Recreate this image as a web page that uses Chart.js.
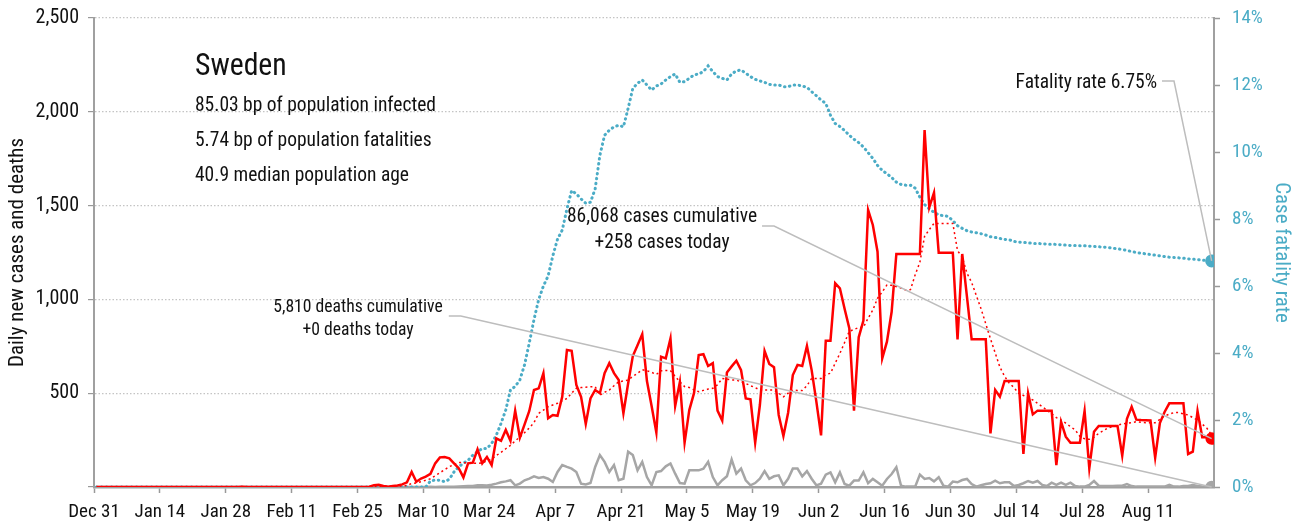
<!DOCTYPE html>
<html>
<head>
<meta charset="utf-8">
<script src="https://cdn.jsdelivr.net/npm/chart.js@4.4.1/dist/chart.umd.min.js"></script>
<style>
  html, body { margin: 0; padding: 0; background: #fff; }
  #wrap { width: 1312px; height: 527px; }
</style>
</head>
<body>
<div id="wrap"><canvas id="chart" width="1312" height="527"></canvas></div>
<script>
// first condensed face that is really installed
function pickFont(names) {
  const c = document.createElement("canvas").getContext("2d");
  const probe = "abcdefghijklmnopqrstuvwxyz 0123456789";
  c.font = "40px monospace";
  const base = c.measureText(probe).width;
  for (const n of names) {
    c.font = "40px '" + n + "', monospace";
    if (c.measureText(probe).width !== base) return "'" + n + "', sans-serif";
  }
  return "sans-serif";
}
const FONT = pickFont(["Roboto Condensed", "Liberation Sans Narrow", "Arial Narrow", "DejaVu Sans Condensed", "Roboto"]);
const BLUE = "#4bacc6";

// one tick every 14 days, first day is Dec 31
const tickLabels = ["Dec 31", "Jan 14", "Jan 28", "Feb 11", "Feb 25", "Mar 10", "Mar 24", "Apr 7",
  "Apr 21", "May 5", "May 19", "Jun 2", "Jun 16", "Jun 30", "Jul 14", "Jul 28", "Aug 11"];

// daily values, one row per two weeks
const dailyCases = [
  0, 0, 0, 0, 0, 0, 0, 0, 0, 0, 0, 0, 0, 0,
  0, 0, 0, 0, 0, 0, 0, 0, 0, 0, 0, 0, 0, 0,
  0, 0, 0, 1, 0, 0, 0, 0, 0, 0, 0, 0, 0, 0,
  0, 0, 0, 0, 0, 0, 0, 0, 0, 0, 0, 0, 0, 0,
  0, 0, 2, 10, 12, 5, 2, 5, 8, 14, 25, 80, 28, 45,
  55, 70, 126, 158, 160, 153, 126, 100, 51, 126, 130, 201, 126, 160,
  117, 259, 246, 304, 246, 407, 263, 334, 405, 517, 526, 607, 366, 384,
  380, 481, 730, 726, 544, 481, 336, 472, 517, 500, 607, 660, 607, 570,
  393, 552, 698, 756, 815, 565, 430, 290, 695, 686, 792, 432, 560, 236,
  410, 500, 703, 708, 645, 660, 407, 354, 611, 643, 673, 623, 472, 467,
  236, 437, 725, 656, 639, 384, 272, 396, 597, 651, 645, 752, 623, 455,
  275, 780, 780, 1086, 1059, 950, 846, 407, 798, 887, 1477, 1397, 1254, 686,
  775, 934, 1242, 1242, 1242, 1242, 1242, 1242, 1903, 1491, 1569, 1249, 1249, 1249,
  1249, 787, 1242, 1015, 787, 787, 787, 787, 286, 517, 481, 565, 565, 565,
  565, 176, 499, 387, 407, 407, 407, 407, 117, 348, 268, 236, 236, 236,
  405, 100, 295, 325, 325, 325, 325, 325, 167, 364, 428, 359, 357, 356,
  355, 156, 341, 400, 446, 446, 446, 446, 176, 188, 405, 265, 265, 258
];

const casesWeekAvg = [
  null, null, null, null, null, null, 0, 0, 0, 0, 0, 0, 0, 0,
  0, 0, 0, 0, 0, 0, 0, 0, 0, 0, 0, 0, 0, 0,
  0, 0, 0, 0, 0, 0, 0, 0, 0, 0, 0, 0, 0, 0,
  0, 0, 0, 0, 0, 0, 0, 0, 0, 0, 0, 0, 0, 0,
  0, 0, 0, 2, 3, 4, 4, 4, 5, 6, 8, 19, 22, 28,
  36, 44, 60, 76, 92, 108, 120, 130, 130, 128, 126, 126, 128, 140,
  148, 168, 185, 204, 222, 246, 266, 290, 315, 343, 393, 410, 428, 437,
  446, 460, 472, 500, 526, 530, 532, 534, 535, 490, 505, 517, 540, 561,
  565, 570, 590, 606, 625, 620, 611, 600, 620, 621, 620, 590, 561, 535,
  530, 518, 508, 515, 522, 526, 545, 579, 575, 570, 570, 560, 552, 540,
  530, 517, 517, 517, 517, 500, 481, 500, 517, 515, 514, 540, 579, 579,
  579, 600, 606, 660, 712, 770, 830, 840, 850, 852, 900, 943, 1006, 1040,
  1077, 1075, 1068, 1060, 1050, 1052, 1131, 1198, 1336, 1372, 1405, 1405, 1405, 1405,
  1405, 1260, 1226, 1140, 1090, 1020, 950, 870, 790, 715, 639, 590, 553, 530,
  499, 488, 476, 464, 446, 428, 410, 390, 370, 357, 340, 322, 304, 270,
  257, 254, 265, 286, 300, 315, 322, 330, 336, 340, 343, 348, 345, 343,
  343, 343, 360, 379, 388, 397, 397, 390, 384, 370, 357, 335, 313, 277
];

const dailyDeaths = [
  0, 0, 0, 0, 0, 0, 0, 0, 0, 0, 0, 0, 0, 0,
  0, 0, 0, 0, 0, 0, 0, 0, 0, 0, 0, 0, 0, 0,
  0, 0, 0, 0, 0, 0, 0, 0, 0, 0, 0, 0, 0, 0,
  0, 0, 0, 0, 0, 0, 0, 0, 0, 0, 0, 0, 0, 0,
  0, 0, 0, 0, 0, 0, 0, 0, 0, 0, 0, 0, 0, 0,
  0, 1, 0, 1, 1, 1, 2, 3, 4, 5, 6, 9, 9, 8,
  12, 18, 25, 30, 36, 9, 18, 36, 45, 57, 48, 53, 44, 27,
  80, 117, 107, 98, 80, 18, 14, 21, 107, 170, 134, 80, 117, 36,
  44, 188, 170, 89, 134, 53, 9, 80, 85, 110, 125, 71, 21, 18,
  89, 89, 89, 98, 134, 53, 9, 36, 57, 146, 71, 98, 36, 9,
  21, 44, 85, 44, 57, 62, 9, 44, 98, 98, 57, 85, 44, 9,
  18, 66, 78, 25, 78, 16, 7, 34, 34, 78, 20, 43, 25, 7,
  43, 69, 105, 7, 2, 2, 2, 66, 43, 48, 30, 52, 7, 2,
  29, 25, 37, 43, 16, 2, 9, 16, 20, 34, 20, 25, 25, 5,
  11, 20, 32, 23, 32, 11, 5, 23, 11, 23, 11, 23, 5, 2,
  2, 11, 32, 7, 5, 5, 5, 7, 7, 16, 5, 2, 2, 2,
  2, 2, 2, 2, 11, 2, 2, 5, 5, 11, 5, 3, 2, 0
];

// case fatality rate, percent
const fatalityRate = [
  0, 0, 0, 0, 0, 0, 0, 0, 0, 0, 0, 0, 0, 0,
  0, 0, 0, 0, 0, 0, 0, 0, 0, 0, 0, 0, 0, 0,
  0, 0, 0, 0, 0, 0, 0, 0, 0, 0, 0, 0, 0, 0,
  0, 0, 0, 0, 0, 0, 0, 0, 0, 0, 0, 0, 0, 0,
  0, 0, 0, 0, 0, 0, 0, 0, 0, 0, 0, 0, 0, 0,
  0, 0.18, 0.21, 0.2, 0.16, 0.23, 0.45, 0.6, 0.71, 0.8, 0.95, 1.05, 1.15, 1.15,
  1.3, 1.55, 1.9, 2.3, 2.9, 3.0, 3.2, 3.65, 4.3, 5.0, 5.6, 6.0, 6.3, 6.9,
  7.4, 7.67, 8.3, 8.85, 8.75, 8.6, 8.47, 8.5, 8.9, 9.9, 10.5, 10.65, 10.75, 10.8,
  10.75, 11.3, 11.9, 12.05, 12.15, 12.0, 11.85, 11.97, 12.03, 12.15, 12.25, 12.33, 12.08, 12.1,
  12.2, 12.3, 12.33, 12.4, 12.57, 12.4, 12.25, 12.2, 12.15, 12.33, 12.42, 12.45, 12.35, 12.25,
  12.17, 12.12, 12.08, 12.02, 12.0, 12.0, 11.95, 11.95, 12.0, 12.0, 11.97, 11.93, 11.8, 11.68,
  11.55, 11.45, 11.1, 10.85, 10.76, 10.64, 10.5, 10.38, 10.28, 10.15, 9.98, 9.81, 9.6, 9.45,
  9.35, 9.24, 9.1, 9.03, 9.01, 9.01, 8.92, 8.65, 8.43, 8.3, 8.2, 8.12, 8.1, 8.08,
  7.95, 7.8, 7.72, 7.65, 7.61, 7.59, 7.56, 7.52, 7.47, 7.45, 7.42, 7.39, 7.38, 7.33,
  7.31, 7.3, 7.29, 7.27, 7.27, 7.26, 7.25, 7.25, 7.24, 7.23, 7.22, 7.21, 7.21, 7.2,
  7.2, 7.19, 7.18, 7.17, 7.16, 7.15, 7.13, 7.11, 7.09, 7.06, 7.03, 7.0, 6.98, 6.96,
  6.94, 6.92, 6.9, 6.88, 6.86, 6.85, 6.84, 6.83, 6.81, 6.8, 6.79, 6.77, 6.76, 6.75
];

const countryName = "Sweden";
const infoLines = ["85.03 bp of population infected", "5.74 bp of population fatalities", "40.9 median population age"];
const casesNote = ["86,068 cases cumulative", "+258 cases today"];
const deathsNote = ["5,810 deaths cumulative", "+0 deaths today"];
const rateNote = "Fatality rate 6.75%";

const lastIdx = dailyCases.length - 1;
const asPoints = arr => arr.map((v, i) => ({ x: i + 0.5, y: v }));
const endDot = r => ctx => ctx.dataIndex === lastIdx ? r : 0;

// squeeze the notes so they are as narrow as the condensed face of the original
let squeeze = 1;
function text(ctx, t, x, y, size, align) {
  ctx.save();
  ctx.font = size + "px " + FONT;
  ctx.textAlign = align;
  ctx.translate(x, y);
  ctx.scale(squeeze, 1);
  ctx.fillText(t, 0, 0);
  const w = ctx.measureText(t).width * squeeze;
  ctx.restore();
  return w;
}

function leader(ctx, x0, y0, pt) {
  ctx.beginPath();
  ctx.moveTo(x0, y0);
  ctx.lineTo(x0 + 12, y0);
  ctx.lineTo(pt.x, pt.y);
  ctx.stroke();
}

const notesPlugin = {
  id: "notes",
  afterDraw(chart) {
    const ctx = chart.ctx;
    const pt = i => chart.getDatasetMeta(i).data[lastIdx];
    ctx.save();
    ctx.font = "21px " + FONT;
    squeeze = Math.min(1, 241 / ctx.measureText(infoLines[0]).width);
    ctx.fillStyle = "#111";
    ctx.textBaseline = "alphabetic";
    text(ctx, countryName, 195, 75, 32, "left");
    infoLines.forEach((t, i) => text(ctx, t, 195, 111 + i * 35, 21, "left"));

    const w1 = text(ctx, casesNote[0], 662, 222, 21, "center");
    text(ctx, casesNote[1], 662, 248, 21, "center");
    const w2 = text(ctx, deathsNote[0], 358, 312, 19, "center");
    text(ctx, deathsNote[1], 358, 335, 19, "center");
    text(ctx, rateNote, 1157, 88, 21, "right");

    ctx.strokeStyle = "#bdbdbd";
    ctx.lineWidth = 1.5;
    leader(ctx, 662 + w1 / 2 + 5, 226, pt(3));
    leader(ctx, 358 + w2 / 2 + 6, 316, pt(0));
    leader(ctx, 1162, 81, pt(1));
    ctx.restore();
  }
};

const noPad = s => { s.paddingTop = 0; s.paddingBottom = 0; };

new Chart(document.getElementById("chart"), {
  type: "line",
  data: {
    datasets: [
      { label: "Deaths", data: asPoints(dailyDeaths), borderColor: "#a6a6a6", backgroundColor: "#a6a6a6",
        borderWidth: 2.5, pointRadius: endDot(5), yAxisID: "y", order: 4 },
      { label: "Case fatality rate", data: asPoints(fatalityRate), borderColor: BLUE, backgroundColor: BLUE,
        borderWidth: 3, borderDash: [0.5, 4.5], borderCapStyle: "round", pointRadius: endDot(5), yAxisID: "y1", order: 3 },
      { label: "7 day average", data: asPoints(casesWeekAvg), borderColor: "#ff0000",
        borderWidth: 1.5, borderDash: [2, 3], pointRadius: 0, yAxisID: "y", order: 2 },
      { label: "Cases", data: asPoints(dailyCases), borderColor: "#ff0000", backgroundColor: "#ff0000",
        borderWidth: 2.5, pointRadius: endDot(5), yAxisID: "y", order: 1 }
    ]
  },
  options: {
    responsive: false,
    animation: false,
    layout: { padding: { top: 18, left: 0, right: 0, bottom: 0 } },
    plugins: { legend: { display: false }, tooltip: { enabled: false } },
    elements: { line: { tension: 0 }, point: { borderWidth: 0 } },
    scales: {
      x: {
        type: "linear", min: 0, max: 238,
        afterBuildTicks: s => { s.ticks = tickLabels.map((_, i) => ({ value: i * 14 })); },
        afterFit: s => { s.height = 40; },
        ticks: { callback: v => tickLabels[Math.round(v / 14)], autoSkip: false, maxRotation: 0,
          padding: 8, color: "#111", font: { family: FONT, size: 19 } },
        grid: { drawOnChartArea: false, tickLength: 6, tickColor: "#999", tickWidth: 1.5 },
        border: { color: "#a0a0a0", width: 2.5 }
      },
      y: {
        position: "left", min: 0, max: 2500,
        afterFit: s => { s.width = 94; noPad(s); },
        ticks: { stepSize: 500, padding: 9, color: "#111", font: { family: FONT, size: 20 },
          callback: v => v === 0 ? "" : v.toLocaleString("en-US") },
        grid: { color: v => v.tick.value === 0 ? "rgba(0,0,0,0)" : "#c4c4c4", lineWidth: 1.2,
          tickColor: "#999", tickLength: 6 },
        border: { color: "#a0a0a0", width: 2, dash: [1.5, 2] },
        title: { display: true, text: "Daily new cases and deaths", color: "#111",
          font: { family: FONT, size: 21 }, padding: { top: 5, bottom: 0 } }
      },
      y1: {
        position: "right", min: 0, max: 14,
        afterFit: s => { s.width = 98; noPad(s); },
        ticks: { stepSize: 2, padding: 12, color: BLUE, font: { family: FONT, size: 19 },
          callback: v => v + "%" },
        grid: { drawOnChartArea: false, tickColor: "#999", tickLength: 6, tickWidth: 1.5 },
        border: { color: "#a0a0a0", width: 2 },
        title: { display: true, text: "Case fatality rate", color: BLUE,
          font: { family: FONT, size: 21 }, padding: { top: 18, bottom: 0 } }
      }
    }
  },
  plugins: [notesPlugin]
});
</script>
</body>
</html>
